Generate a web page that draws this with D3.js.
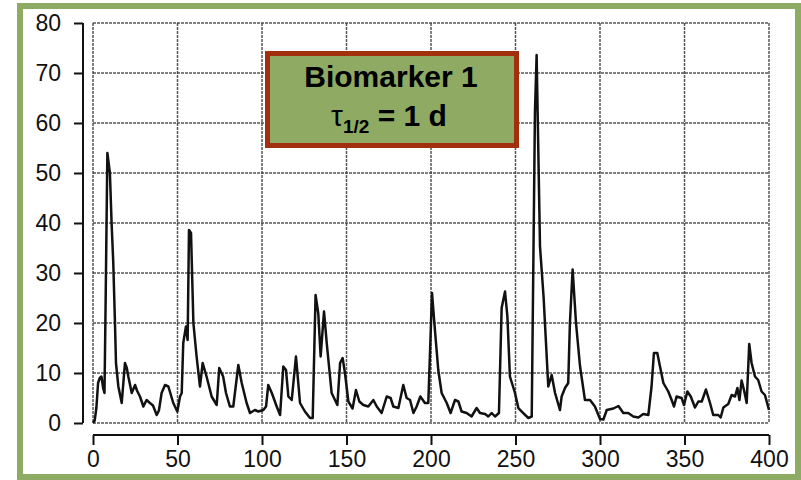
<!DOCTYPE html>
<html>
<head>
<meta charset="utf-8">
<script src="https://cdn.jsdelivr.net/npm/d3@7"></script>
<style>
    html, body { margin: 0; padding: 0; background: #fff; }
    svg { display: block; font-family: "Liberation Sans", Arial, sans-serif; }
</style>
</head>
<body>
<div id="chart"></div>
<script>
// Biomarker 1 trace (day, level)
const days = [
    0, 1, 2, 3, 4, 5, 6, 6.8, 7.5, 8.5, 10, 11, 12, 13, 13.6, 15, 17, 18.9, 20, 20.9,
    22, 22.9, 24.9, 26, 27.8, 29.8, 31.7, 33.7, 35.5, 37.7, 39, 40.6, 42.6, 44.6, 47.5, 49.9,
    51.5, 52.5, 53.4, 55, 56, 56.8, 58, 59.4, 61.3, 63.3, 64.9, 67.2, 70.2, 73.2, 74.7, 77,
    78.7, 81, 83, 86, 88, 90.9, 92.9, 95.8, 97.8, 100.8, 102.4, 103.7, 105.8, 108.7, 110.7,
    112.6, 114.2, 115.6, 117.6, 120.1, 122.5, 125.4, 128.4, 130, 131.7, 133.3, 134.7, 136.7,
    138.3, 141.2, 144.6, 146.2, 147.7, 149.1, 151.1, 153.6, 155.6, 157.6, 160, 162.9, 165.9,
    167.9, 170.8, 173.8, 176.1, 177.7, 180.7, 183.6, 185.6, 187.6, 189.6, 191.5, 193.7, 196.4,
    198.4, 200.6, 202.4, 204.3, 206.3, 209.3, 211.6, 214.2, 216.2, 218.1, 221.1, 224, 227, 229,
    232, 233.9, 235.9, 237.9, 240.2, 241.8, 243.8, 245.2, 246.7, 249.7, 251.7, 254.6, 257.6,
    259.6, 261.5, 262.5, 264.5, 266.6, 269.4, 271.4, 273.4, 276.3, 277.3, 279.3, 281.2, 282.2,
    283.8, 285.8, 288.2, 291.1, 294.1, 297, 300, 302, 304, 307.9, 310.9, 313.8, 316.7, 319.7,
    322.7, 325.6, 328.6, 330.5, 331.9, 333.9, 335.5, 337.5, 340.4, 342.4, 343.8, 345.3, 348.3,
    349.7, 351.7, 353.7, 356.2, 358.2, 360.2, 362.7, 365.1, 367, 370, 371.4, 373, 375.9, 377.9,
    379.9, 381.3, 382.5, 383.8, 385.2, 386.8, 388.3, 389.7, 391.7, 393.6, 395.6, 397.6, 400
];
const levels = [
    0, 0.5, 3, 8, 9, 9.3, 7, 6, 25, 54, 50, 40, 32, 20, 12, 7.3, 4, 12, 11, 9.3,
    7.5, 6, 7.6, 6.5, 5.3, 3.3, 4.6, 4, 3.5, 1.6, 2.5, 6, 7.6, 7.3, 4, 2.3,
    5.3, 6, 16, 19.3, 16.6, 38.6, 38, 20, 13.3, 7.3, 12, 9.3, 5.3, 3.6, 11, 9.3,
    6, 3.3, 3.3, 11.6, 8, 4, 2, 2.6, 2.3, 2.6, 3.3, 7.6, 6, 3.3, 1.6,
    11.3, 10.6, 5.3, 4.6, 13.3, 4, 2.3, 1, 1, 25.6, 21.9, 13.3, 22.3,
    16, 6, 3.6, 12, 13, 10, 4.3, 2.9, 6.6, 4.3, 3.6, 3.3, 4.6,
    3.3, 2, 5.3, 5, 3.3, 3, 7.6, 5, 4.6, 2, 3.3, 5.3, 4,
    4, 26, 18.3, 10.6, 6, 4, 2, 4.6, 4.3, 2.3, 2, 1.3, 3, 2,
    1.8, 1.3, 2, 1.3, 2, 23, 26.3, 21.3, 9.3, 6, 3, 2, 1,
    1.3, 62, 73.6, 35.3, 25.3, 7.3, 9.6, 6, 2.6, 5.3, 7, 8, 20,
    30.7, 20, 11.3, 4.6, 4.6, 3.3, 0.8, 0.7, 2.6, 2.9, 3.4, 2, 2, 1.3,
    1.1, 1.8, 1.6, 7.3, 14, 14, 11.3, 8, 6.3, 4.6, 3.3, 5.3, 5,
    3.6, 6.3, 5.3, 3.1, 4.3, 4.3, 6.7, 4, 1.6, 1.6, 1.1, 3.1, 3.8, 5.6,
    5.3, 7, 4.6, 8.5, 6.6, 4, 15.8, 12, 9.3, 8.6, 6.3, 5.6, 2.6
];
const xTicks = [0, 50, 100, 150, 200, 250, 300, 350, 400];
const yTicks = [0, 10, 20, 30, 40, 50, 60, 70, 80];
const legendTitle = 'Biomarker 1';

const width = 801;
const height = 480;

const svg = d3.select('#chart')
    .append('svg')
    .attr('width', width)
    .attr('height', height);

// green frame round the whole figure
svg.append('rect')
    .attr('x', 20)
    .attr('y', 6)
    .attr('width', 778)
    .attr('height', 471)
    .attr('fill', '#fff')
    .attr('stroke', '#8dab63')
    .attr('stroke-width', 6);

const x = d3.scaleLinear().domain([0, 400]).range([93, 769]);
const y = d3.scaleLinear().domain([0, 80]).range([423, 23]);

// dotted grid
const grid = svg.append('g')
    .attr('stroke', '#3a3a3a')
    .attr('stroke-width', 1.5)
    .attr('stroke-dasharray', '3,1')
    .attr('stroke-opacity', 0.85);

grid.selectAll('.gx')
    .data(xTicks)
    .enter()
    .append('line')
    .attr('x1', d => x(d))
    .attr('x2', d => x(d))
    .attr('y1', y(80))
    .attr('y2', y(0));

grid.selectAll('.gy')
    .data(yTicks)
    .enter()
    .append('line')
    .attr('x1', x(0))
    .attr('x2', x(400))
    .attr('y1', d => y(d))
    .attr('y2', d => y(d));

// y axis, set a little left of the grid
const yAxis = svg.append('g')
    .attr('transform', 'translate(83,0)')
    .call(d3.axisLeft(y).tickValues(yTicks).tickSize(9).tickPadding(13));

// x axis, set a little below the grid
const xAxis = svg.append('g')
    .attr('transform', 'translate(0,435)')
    .call(d3.axisBottom(x).tickValues(xTicks).tickSize(10).tickPadding(6));

[xAxis, yAxis].forEach(ax => {
    ax.select('.domain').attr('stroke', '#111').attr('stroke-width', 2);
    ax.selectAll('.tick line').attr('stroke', '#111').attr('stroke-width', 2);
    ax.selectAll('.tick text')
        .attr('fill', '#111')
        .attr('font-size', '23px')
        .attr('font-family', '"Liberation Sans", Arial, sans-serif');
});
// d3 draws an outer tick stub on the domain path; keep it plain
yAxis.select('.domain').attr('d', `M0,${y(80)}V${y(0)}`);
xAxis.select('.domain').attr('d', `M${x(0)},0H${x(400)}`);

// trace
const points = days.map((d, i) => [d, levels[i]]);
const line = d3.line()
    .x(d => x(d[0]))
    .y(d => y(d[1]));

svg.append('path')
    .datum(points)
    .attr('fill', 'none')
    .attr('stroke', '#111')
    .attr('stroke-width', 2.5)
    .attr('stroke-linejoin', 'round')
    .attr('d', line);

// legend box
const legend = svg.append('g');
legend.append('rect')
    .attr('x', 267.5)
    .attr('y', 53.5)
    .attr('width', 249)
    .attr('height', 92)
    .attr('fill', '#8eaa63')
    .attr('stroke', '#a2300f')
    .attr('stroke-width', 5);

legend.append('text')
    .attr('x', 391)
    .attr('y', 87)
    .attr('text-anchor', 'middle')
    .attr('font-size', '30px')
    .attr('font-weight', 'bold')
    .attr('fill', '#000')
    .text(legendTitle);

const sub = legend.append('text')
    .attr('x', 389)
    .attr('y', 126)
    .attr('text-anchor', 'middle')
    .attr('font-size', '30px')
    .attr('font-weight', 'bold')
    .attr('fill', '#000');
sub.append('tspan').attr('font-weight', 'normal').text('τ');
sub.append('tspan').attr('font-size', '19px').attr('dy', 7).text('1/2');
sub.append('tspan').attr('dy', -7).text(' = 1 d');
</script>
</body>
</html>
